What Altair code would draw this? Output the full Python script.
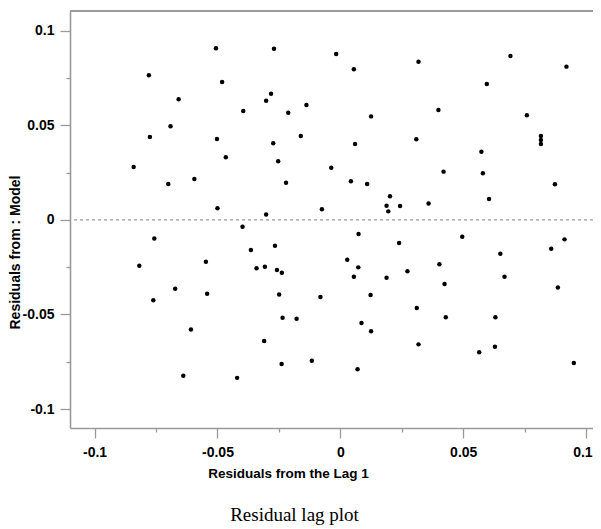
import altair as alt
import pandas as pd

# residual (t) on x, residual (t+1) on y
x_vals = [
    -0.0506, -0.0270, -0.0779, -0.0481, -0.0282, -0.0658, -0.0302, -0.0395, -0.0212, -0.0691,
    -0.0775, -0.0502, -0.0273, -0.0161, -0.0466, -0.0253, -0.0841, -0.0594, -0.0700, -0.0221,
    -0.0500, -0.0302, -0.0398, -0.0757,
    -0.0017, 0.0055, 0.0318, 0.0692, 0.0920, 0.0596, -0.0138, 0.0125, 0.0399, 0.0759,
    0.0060, 0.0309, 0.0816, 0.0816, 0.0816, 0.0574, -0.0037, 0.0420, 0.0580, 0.0043,
    0.0109, 0.0873, 0.0202, 0.0605, 0.0188, 0.0243, 0.0195, 0.0359, -0.0075, 0.0074,
    0.0496, 0.0912,
    -0.0818, -0.0364, -0.0266, -0.0547, -0.0341, -0.0307, -0.0258, -0.0238, -0.0672, -0.0542,
    -0.0761, -0.0249, -0.0608, -0.0235, -0.0178, -0.0310, -0.0239, -0.0639, -0.0420,
    0.0239, 0.0858, 0.0651, 0.0028, 0.0073, 0.0403, 0.0273, 0.0055, 0.0188, 0.0668,
    0.0424, 0.0885, -0.0081, 0.0123, 0.0311, 0.0429, 0.0631, 0.0086, 0.0125, 0.0318,
    0.0565, 0.0629, -0.0116, 0.0070, 0.0950,
]
y_vals = [
    0.0907, 0.0905, 0.0764, 0.0729, 0.0667, 0.0637, 0.0630, 0.0575, 0.0566, 0.0495,
    0.0438, 0.0427, 0.0405, 0.0443, 0.0331, 0.0310, 0.0279, 0.0216, 0.0190, 0.0196,
    0.0061, 0.0029, -0.0036, -0.0098,
    0.0877, 0.0796, 0.0836, 0.0866, 0.0810, 0.0718, 0.0607, 0.0547, 0.0581, 0.0553,
    0.0401, 0.0426, 0.0443, 0.0422, 0.0401, 0.0360, 0.0276, 0.0255, 0.0246, 0.0204,
    0.0190, 0.0188, 0.0125, 0.0110, 0.0075, 0.0073, 0.0045, 0.0087, 0.0056, -0.0075,
    -0.0089, -0.0103,
    -0.0242, -0.0159, -0.0137, -0.0221, -0.0256, -0.0248, -0.0265, -0.0279, -0.0364, -0.0390,
    -0.0425, -0.0394, -0.0579, -0.0517, -0.0523, -0.0640, -0.0762, -0.0824, -0.0835,
    -0.0122, -0.0153, -0.0179, -0.0211, -0.0251, -0.0235, -0.0272, -0.0301, -0.0306, -0.0301,
    -0.0339, -0.0357, -0.0408, -0.0397, -0.0466, -0.0515, -0.0515, -0.0545, -0.0589, -0.0658,
    -0.0700, -0.0671, -0.0745, -0.0790, -0.0757,
]
tick_vals = [-0.1, -0.075, -0.05, -0.025, 0, 0.025, 0.05, 0.075, 0.1]
x_title = "Residuals from the Lag 1"
y_title = "Residuals from : Model"
caption = "Residual lag plot"
zero_line = [0]

df = pd.DataFrame({"x": x_vals, "y": y_vals})

GRAY = "#9a9a9a"
major = "abs(datum.value*20 - round(datum.value*20)) < 1e-6"
label_expr = f"({major}) ? ('' + datum.value) : ''"
tick_size = {"condition": {"test": major, "value": 10}, "value": 4}
last = "datum.value > 0.09"

xscale = alt.Scale(domain=[-0.11, 0.1028], nice=False, zero=False)
yscale = alt.Scale(domain=[-0.11, 0.1104], nice=False, zero=False)

xaxis = alt.Axis(
    values=tick_vals, labelExpr=label_expr, tickSize=tick_size, grid=False,
    title=x_title, titleX=218, titleY=45, titleBaseline="middle", titleAlign="center",
    titleFontSize=13.5, labelPadding=7, labelFlush=False, labelOverlap=False,
    labelAlign={"condition": {"test": last, "value": "right"}, "value": "center"},
    labelOffset={"condition": {"test": last, "value": 6}, "value": 0},
)
yaxis = alt.Axis(
    values=tick_vals, labelExpr=label_expr, tickSize=tick_size, grid=False,
    title=y_title, titleX=-55, titleY=241, titleAngle=270, titleBaseline="middle",
    titleAlign="center", titleFontSize=14, labelPadding=6, labelFlush=False,
    labelOverlap=False,
)

points = alt.Chart(df).mark_circle(size=20, color="black", opacity=1).encode(
    x=alt.X("x:Q", scale=xscale, axis=xaxis),
    y=alt.Y("y:Q", scale=yscale, axis=yaxis),
)

zero_rule = alt.Chart(pd.DataFrame({"z": zero_line})).mark_rule(
    color=GRAY, strokeWidth=1.3, strokeDash=[3, 3]
).encode(y=alt.Y("z:Q", scale=yscale, axis=yaxis))

top_rule = alt.Chart(pd.DataFrame({"z": zero_line})).mark_rule(
    color=GRAY, strokeWidth=2
).encode(y=alt.value(0))

chart = (
    alt.layer(points, zero_rule, top_rule)
    .properties(
        width=523,
        height=417,
        autosize=alt.AutoSizeParams(type="none"),
        padding={"left": 62, "top": 3, "right": 0, "bottom": 99},
        title=alt.TitleParams(
            caption, orient="bottom", font="Liberation Serif", fontSize=19,
            fontWeight="normal", color="black", offset=26, dx=-37, anchor="middle",
        ),
    )
    .configure_view(stroke=None)
    .configure_axis(
        domainColor=GRAY, domainWidth=1.6, tickColor=GRAY, tickWidth=1.3,
        labelFont="Liberation Sans", labelFontWeight="bold", labelFontSize=14,
        labelColor="black", titleFont="Liberation Sans", titleFontWeight="bold",
        titleColor="black",
    )
)

chart.save("out.html", embed_options={"renderer": "svg", "actions": False})
